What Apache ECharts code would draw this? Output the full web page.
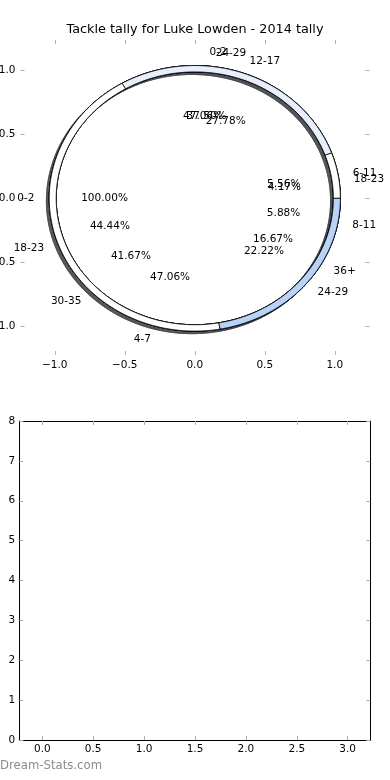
<!DOCTYPE html>
<html><head><meta charset="utf-8">
<script src="https://cdn.jsdelivr.net/npm/echarts@6/dist/echarts.min.js"></script>
<style>html,body{margin:0;padding:0;background:#fff}#c{width:390px;height:780px}</style>
</head><body><div id="c"></div>
<script>
// ---- data ----
const titleText = 'Tackle tally for Luke Lowden - 2014 tally';
const pieALabels = ['0-2'];
const pieAValues = [1];
const pieBLabels = ['6-11', '12-17', '18-23', '24-29'];
const pieBValues = [1, 5, 8, 4];
const pieCLabels = ['0-2', '4-7', '8-11'];
const pieCValues = [8, 8, 1];
const pieDLabels = ['18-23', '24-29', '30-35', '36+'];
const pieDValues = [1, 9, 10, 4];
const pieTicks = [-1, -0.5, 0, 0.5, 1];
const barXTicks = [0, 0.5, 1, 1.5, 2, 2.5, 3];
const barYTicks = [0, 1, 2, 3, 4, 5, 6, 7, 8];

// ---- style ----
const FONT = '"DejaVu Sans", sans-serif';
const palette = ['#ffffff', '#e8effc', '#ffffff', '#b7d3f8'];
const R_OUT = 1.04, R_IN = 0.99, LABEL_R = 1.145, PCT_R = 0.645, SH = -0.02;

const pies = [
  { labels: pieALabels, values: pieAValues, colors: ['#ffffff'] },
  { labels: pieCLabels, values: pieCValues, colors: palette },
  { labels: pieDLabels, values: pieDValues, colors: palette },
  { labels: pieBLabels, values: pieBValues, colors: palette }
];

const wedges = [], texts = [];
pies.forEach(p => {
  const tot = p.values.reduce((a, b) => a + b, 0);
  let t = 0;
  p.values.forEach((v, i) => {
    const f = v / tot;
    const t1 = t * 360, t2 = (t + f) * 360;
    const m = (t1 + t2) / 2 * Math.PI / 180;
    wedges.push({ t1, t2, cx: 0, cy: 0, color: p.colors[i % p.colors.length] });
    const xt = LABEL_R * Math.cos(m), yt = LABEL_R * Math.sin(m);
    texts.push({ x: xt, y: yt, s: p.labels[i], align: xt > 0 ? 'left' : 'right' });
    texts.push({ x: PCT_R * Math.cos(m), y: PCT_R * Math.sin(m), s: (100 * f).toFixed(2) + '%', align: 'center' });
    t += f;
  });
});

function hexToRgb(h) { const n = parseInt(h.slice(1), 16); return [(n >> 16) & 255, (n >> 8) & 255, n & 255]; }

function arc(api, w, r, dx, dy, from, to) {
  const pts = [];
  const n = Math.max(6, Math.ceil(Math.abs(to - from) / 1.5));
  for (let k = 0; k <= n; k++) {
    const a = (from + (to - from) * k / n) * Math.PI / 180;
    pts.push(api.coord([w.cx + dx + r * Math.cos(a), w.cy + dy + r * Math.sin(a)]));
  }
  return pts;
}

function wedgeShape(api, w, dx, dy, fill, stroke, lw) {
  const outer = arc(api, w, R_OUT, dx, dy, w.t1, w.t2);
  const inner = arc(api, w, R_IN, dx, dy, w.t2, w.t1);
  const full = (w.t2 - w.t1) >= 359.999;
  if (!full) {
    return { type: 'polygon', shape: { points: outer.concat(inner) }, style: { fill, stroke, lineWidth: lw } };
  }
  return {
    type: 'group', children: [
      { type: 'polygon', shape: { points: outer.concat(inner) }, style: { fill, stroke: null, lineWidth: 0 } },
      { type: 'polygon', shape: { points: outer }, style: { fill: null, stroke, lineWidth: lw } },
      { type: 'polygon', shape: { points: inner }, style: { fill: null, stroke, lineWidth: lw } }
    ]
  };
}

const idxData = wedges.map((w, i) => [i, 0]);
const txtData = texts.map((t, i) => [i, 0]);

const tickStyle = { show: true, inside: true, length: 4, lineStyle: { color: '#b0b0b0', width: 1 } };
const lblStyle = { color: '#000', fontSize: 10.5, fontFamily: FONT };
const noLine = { show: false, onZero: false };
const blackLine = { show: true, onZero: false, lineStyle: { color: '#000', width: 1 } };
function fmt(v) { return (v < 0 ? '\u2212' : '') + Math.abs(v).toFixed(1); }

const chart = echarts.init(document.getElementById('c'), null, { renderer: 'canvas' });
chart.setOption({
  animation: false,
  backgroundColor: '#fff',
  graphic: [
    { type: 'text', x: 195, y: 30, style: { text: titleText, fill: '#000', font: '12.8px ' + FONT, align: 'center', verticalAlign: 'middle' } },
    { type: 'text', x: 0, y: 766, style: { text: 'Dream-Stats.com', fill: '#8c8c8c', font: '11.7px ' + FONT, align: 'left', verticalAlign: 'middle' } }
  ],
  grid: [
    { left: 20.5, top: 40, width: 349, height: 315, containLabel: false, outerBoundsMode: 'none' },
    { left: 19.3, top: 421, width: 351, height: 319, containLabel: false, outerBoundsMode: 'none' }
  ],
  xAxis: [
    { gridIndex: 0, type: 'value', position: 'bottom', min: -1.245, max: 1.248, axisLine: noLine,
      axisTick: Object.assign({ customValues: pieTicks }, tickStyle), splitLine: { show: false },
      axisLabel: Object.assign({ customValues: pieTicks, margin: 5, formatter: fmt }, lblStyle) },
    { gridIndex: 0, type: 'value', position: 'top', min: -1.245, max: 1.248, axisLine: noLine,
      axisTick: Object.assign({ customValues: pieTicks }, tickStyle), splitLine: { show: false }, axisLabel: { show: false } },
    { gridIndex: 1, type: 'value', position: 'bottom', min: -0.226, max: 3.222, axisLine: blackLine,
      axisTick: Object.assign({ customValues: barXTicks }, tickStyle), splitLine: { show: false },
      axisLabel: Object.assign({ customValues: barXTicks, margin: 4, formatter: v => v.toFixed(1) }, lblStyle) },
    { gridIndex: 1, type: 'value', position: 'top', min: -0.226, max: 3.222, axisLine: blackLine,
      axisTick: Object.assign({ customValues: barXTicks }, tickStyle), splitLine: { show: false }, axisLabel: { show: false } }
  ],
  yAxis: [
    { gridIndex: 0, type: 'value', position: 'left', min: -1.227, max: 1.24, axisLine: noLine,
      axisTick: Object.assign({ customValues: pieTicks }, tickStyle), splitLine: { show: false },
      axisLabel: Object.assign({ customValues: pieTicks, margin: 5, formatter: fmt }, lblStyle) },
    { gridIndex: 0, type: 'value', position: 'right', min: -1.227, max: 1.24, axisLine: noLine,
      axisTick: Object.assign({ customValues: pieTicks }, tickStyle), splitLine: { show: false }, axisLabel: { show: false } },
    { gridIndex: 1, type: 'value', position: 'left', min: 0, max: 8, interval: 1, axisLine: blackLine,
      axisTick: Object.assign({ customValues: barYTicks }, tickStyle), splitLine: { show: false },
      axisLabel: Object.assign({ customValues: barYTicks, margin: 4 }, lblStyle) },
    { gridIndex: 1, type: 'value', position: 'right', min: 0, max: 8, interval: 1, axisLine: blackLine,
      axisTick: Object.assign({ customValues: barYTicks }, tickStyle), splitLine: { show: false }, axisLabel: { show: false } }
  ],
  series: [
    { type: 'custom', name: 'shadows', xAxisIndex: 0, yAxisIndex: 0, clip: false, z: 1, silent: true, data: idxData,
      renderItem: (params, api) => {
        const w = wedges[api.value(0)];
        const c = hexToRgb(w.color).map(x => Math.round(x * 0.3));
        const col = 'rgba(' + c.join(',') + ',0.5)';
        return wedgeShape(api, w, SH, SH, col, col, 0.8);
      } },
    { type: 'custom', name: 'wedges', xAxisIndex: 0, yAxisIndex: 0, clip: false, z: 2, silent: true, data: idxData,
      renderItem: (params, api) => {
        const w = wedges[api.value(0)];
        return wedgeShape(api, w, 0, 0, w.color, '#000', 0.8);
      } },
    { type: 'custom', name: 'labels', xAxisIndex: 0, yAxisIndex: 0, clip: false, z: 3, silent: true, data: txtData,
      renderItem: (params, api) => {
        const t = texts[api.value(0)];
        const p = api.coord([t.x, t.y]);
        return { type: 'text', x: p[0], y: p[1], style: { text: t.s, fill: '#000', font: '10.5px ' + FONT, align: t.align, verticalAlign: 'middle' } };
      } },
    { type: 'line', xAxisIndex: 2, yAxisIndex: 2, data: [], silent: true }
  ]
});
</script></body></html>
